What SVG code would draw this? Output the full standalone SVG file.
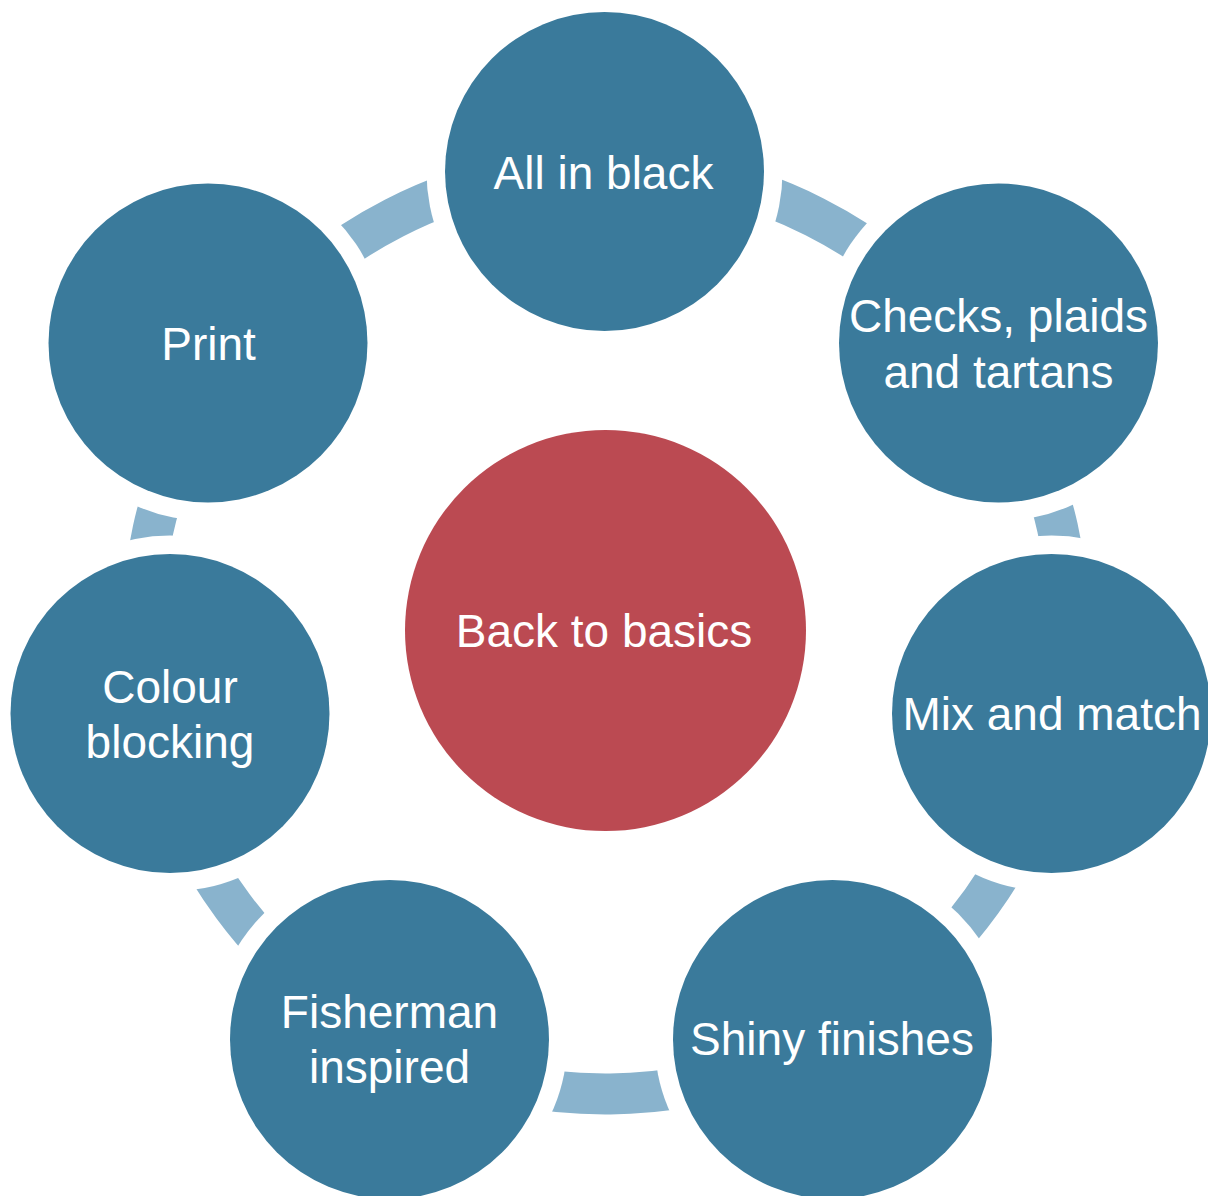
<svg xmlns="http://www.w3.org/2000/svg" width="1208" height="1196" viewBox="0 0 1208 1196">
  <style>
    .node { fill: #3A7A9B; }
    .hub { fill: #BB4A52; }
    .arc { fill: none; stroke: #89B3CD; stroke-width: 41; }
    .label { font-family: "Liberation Sans", Arial, Helvetica, sans-serif; font-size: 46px; fill: #FFFFFF; text-anchor: middle; }
  </style>
  <defs>
    <!-- white clearance around each outer circle cuts the ring into segments -->
    <mask id="ringGaps" maskUnits="userSpaceOnUse" x="0" y="0" width="1208" height="1196">
      <rect x="0" y="0" width="1208" height="1196" fill="#fff"/>
      <g fill="#000">
        <circle cx="604.5" cy="171.5" r="178"/>
        <circle cx="998.5" cy="343" r="178"/>
        <circle cx="1051.5" cy="713.5" r="178"/>
        <circle cx="832.5" cy="1039.5" r="178"/>
        <circle cx="389.5" cy="1039.5" r="178"/>
        <circle cx="170" cy="713.5" r="178"/>
        <circle cx="208" cy="343" r="178"/>
      </g>
    </mask>
  </defs>

  <rect x="0" y="0" width="1208" height="1196" fill="#FFFFFF"/>

  <!-- ring segments between neighbouring circles -->
  <g id="connectors" mask="url(#ringGaps)">
    <path class="arc" d="M604.5,167 A463.5,463.5 0 0 1 979.6,356.8"/>
    <path class="arc" d="M979.6,356.8 A463.5,463.5 0 0 1 1061.2,715.3"/>
    <path class="arc" d="M1061.2,715.3 A463.5,463.5 0 0 1 830.4,1035.8"/>
    <path class="arc" d="M830.4,1035.8 A463.5,463.5 0 0 1 389,1040.3"/>
    <path class="arc" d="M389,1040.3 A463.5,463.5 0 0 1 150.2,717.3"/>
    <path class="arc" d="M150.2,717.3 A463.5,463.5 0 0 1 229.9,358.9"/>
    <path class="arc" d="M229.9,358.9 A463.5,463.5 0 0 1 604.5,167"/>
  </g>

  <g id="node-center">
    <circle class="hub" cx="605.5" cy="630.5" r="200.5"/>
    <text class="label" x="604" y="647">Back to basics</text>
  </g>

  <g id="node-all-in-black">
    <circle class="node" cx="604.5" cy="171.5" r="159.5"/>
    <text class="label" x="603.5" y="188.5">All in black</text>
  </g>

  <g id="node-checks">
    <circle class="node" cx="998.5" cy="343" r="159.5"/>
    <text class="label" x="998.5" y="332">Checks, plaids</text>
    <text class="label" x="998.5" y="387.5">and tartans</text>
  </g>

  <g id="node-mix-and-match">
    <circle class="node" cx="1051.5" cy="713.5" r="159.5"/>
    <text class="label" x="1052" y="730">Mix and match</text>
  </g>

  <g id="node-shiny-finishes">
    <circle class="node" cx="832.5" cy="1039.5" r="159.5"/>
    <text class="label" x="832" y="1055">Shiny finishes</text>
  </g>

  <g id="node-fisherman">
    <circle class="node" cx="389.5" cy="1039.5" r="159.5"/>
    <text class="label" x="389.5" y="1027.5">Fisherman</text>
    <text class="label" x="389.5" y="1083">inspired</text>
  </g>

  <g id="node-colour-blocking">
    <circle class="node" cx="170" cy="713.5" r="159.5"/>
    <text class="label" x="170" y="703">Colour</text>
    <text class="label" x="170" y="758">blocking</text>
  </g>

  <g id="node-print">
    <circle class="node" cx="208" cy="343" r="159.5"/>
    <text class="label" x="208.5" y="360">Print</text>
  </g>
</svg>
